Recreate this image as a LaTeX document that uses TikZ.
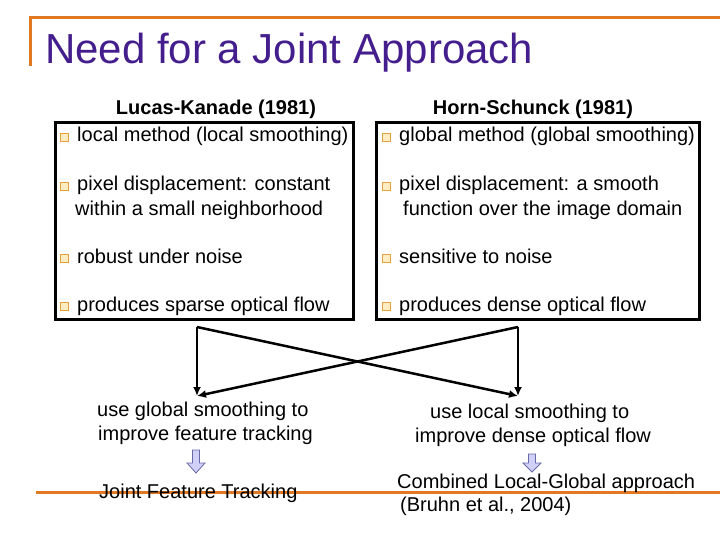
\documentclass[tikz,border=0pt]{standalone}
\usepackage{fontspec}
\setmainfont{Liberation Sans}
\usetikzlibrary{arrows.meta}
\definecolor{titlepurple}{RGB}{68,30,140}
\definecolor{rule}{RGB}{225,120,35}
\definecolor{bulletedge}{RGB}{228,160,60}
\definecolor{bulletfill}{RGB}{255,236,195}
\definecolor{blockfill}{RGB}{208,208,248}
\definecolor{blockedge}{RGB}{105,105,170}
\tikzset{
  txt/.style={inner sep=0pt, anchor=base west, font=\fontsize{20}{24}\selectfont},
  head/.style={inner sep=0pt, anchor=base, font=\fontsize{20}{24}\selectfont\bfseries},
  bul/.style={draw=bulletedge, fill=bulletfill, line width=1.3pt, minimum size=7.5pt, inner sep=0pt},
  box/.style={draw=black, line width=3pt},
  rulel/.style={draw=rule, line width=3pt},
  arr/.style={draw=black, line width=2.5pt, -{Latex[length=9pt,width=8pt]}},
  blockarrow/.style={fill=blockfill, draw=blockedge, line width=0.8pt, line join=miter}
}
\begin{document}
\begin{tikzpicture}[x=1pt,y=-1pt]
\useasboundingbox (0,0) rectangle (720,540);
% rules
\draw[rulel] (30,66) -- (30,18) -- (720,18);
\draw[rulel] (36,492) -- (720,492);
% title
\node[inner sep=0pt, anchor=base west, font=\fontsize{42}{48}\selectfont, text=titlepurple] (title) at (45,64) {Need for a Joint Approach};
% headings
\node[head] (lkhead) at (216,115) {Lucas-Kanade (1981)};
\node[head] (hshead) at (533,115) {Horn-Schunck (1981)};
% boxes
\draw[box] (55,123) rectangle (353,319);
\draw[box] (376,123) rectangle (699,319);
% left items
\node[bul] (lb1) at (64.5,137.5) {};
\node[txt] (l1) at (77,142) {local method (local smoothing)};
\node[bul] (lb2) at (64.5,186.5) {};
\node[txt] (l2a) at (77,191) {pixel displacement: constant};
\node[txt] (l2b) at (75,215) {within a small neighborhood};
\node[bul] (lb3) at (64.5,258.5) {};
\node[txt] (l3) at (77,263) {robust under noise};
\node[bul] (lb4) at (64.5,306.5) {};
\node[txt] (l4) at (77,311) {produces sparse optical flow};
% right items
\node[bul] (rb1) at (386.5,137.5) {};
\node[txt] (r1) at (399,142) {global method (global smoothing)};
\node[bul] (rb2) at (386.5,186.5) {};
\node[txt] (r2a) at (399,191) {pixel displacement: a smooth};
\node[txt] (r2b) at (403,215) {function over the image domain};
\node[bul] (rb3) at (386.5,258.5) {};
\node[txt] (r3) at (399,263) {sensitive to noise};
\node[bul] (rb4) at (386.5,306.5) {};
\node[txt] (r4) at (399,311) {produces dense optical flow};
% crossing arrows
\coordinate (a1) at (197,327);
\coordinate (a2) at (518,327);
\coordinate (b1) at (197,396);
\coordinate (b2) at (518,396);
\draw[arr] (a1) -- (b1);
\draw[arr] (a1) -- (b2);
\draw[arr] (a2) -- (b2);
\draw[arr] (a2) -- (b1);
% bottom texts
\node[txt] (g1) at (97,416) {use global smoothing to};
\node[txt] (g2) at (98,440) {improve feature tracking};
\node[txt] (c1) at (430,418) {use local smoothing to};
\node[txt] (c2) at (415,442) {improve dense optical flow};
% block arrows
\draw[blockarrow] (192.5,450) -- (199.5,450) -- (199.5,463) -- (205,463) -- (196,473) -- (187,463) -- (192.5,463) -- cycle;
\draw[blockarrow] (528.5,454) -- (535.5,454) -- (535.5,463) -- (541,463) -- (532,472) -- (523,463) -- (528.5,463) -- cycle;
% results
\node[txt] (jft) at (99,498) {Joint Feature Tracking};
\node[txt] (clg1) at (397,488) {Combined Local-Global approach};
\node[txt] (clg2) at (400,511) {(Bruhn et al., 2004)};
\end{tikzpicture}
\end{document}
